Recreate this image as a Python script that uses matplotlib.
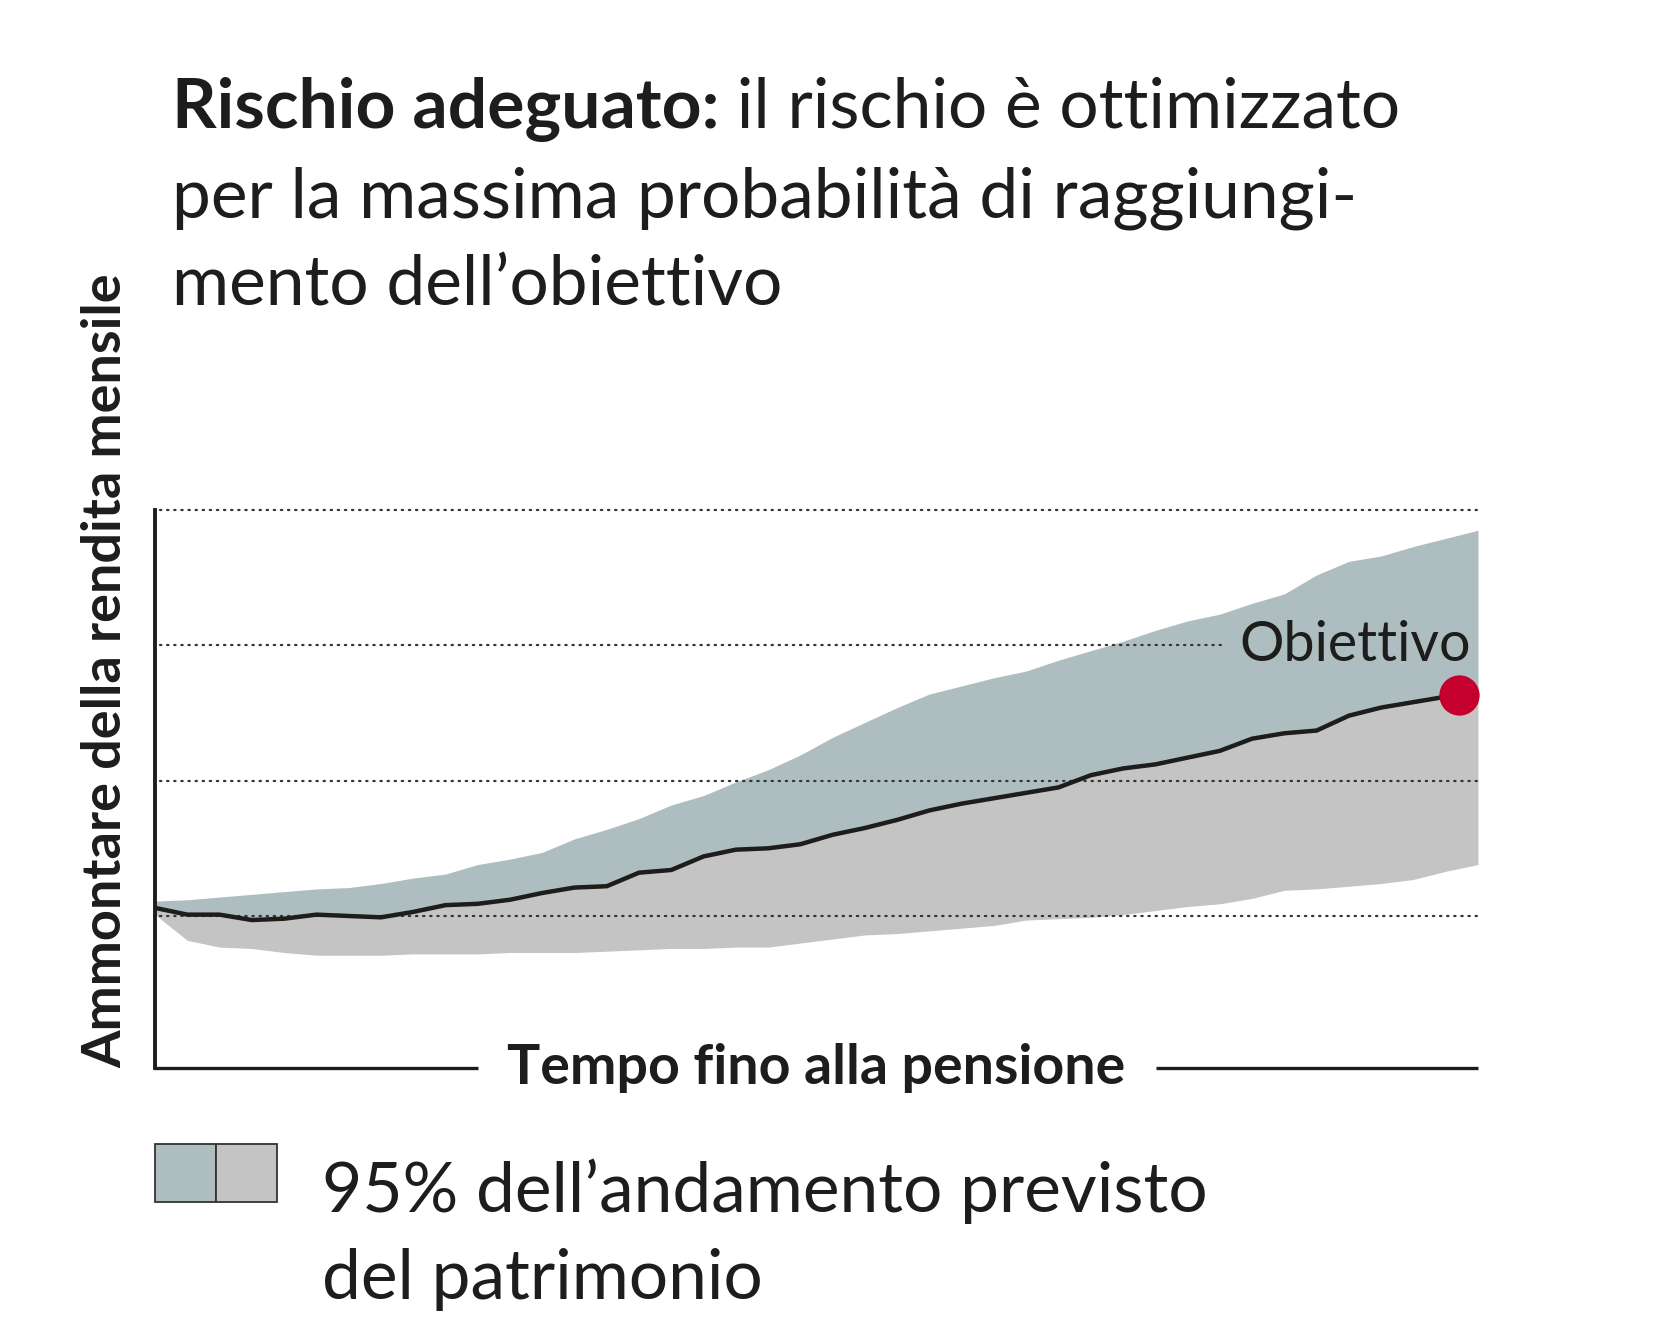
import matplotlib
matplotlib.use("Agg")
import matplotlib.pyplot as plt
from matplotlib.patches import Rectangle
import numpy as np

plt.rcParams['font.family'] = ['Lato', 'DejaVu Sans']

# time steps until retirement (arbitrary units) and projected monthly annuity
tempo = list(range(42))
banda_sup = [0.11, 0.12, 0.14, 0.16, 0.18, 0.20, 0.21, 0.24, 0.28, 0.31,
             0.38, 0.42, 0.47, 0.57, 0.64, 0.72, 0.82, 0.89, 0.99, 1.08,
             1.19, 1.32, 1.43, 1.54, 1.64, 1.70, 1.76, 1.81, 1.89, 1.96,
             2.03, 2.11, 2.18, 2.23, 2.31, 2.38, 2.52, 2.62, 2.66, 2.73,
             2.79, 2.85]
banda_inf = [0.01, -0.18, -0.23, -0.24, -0.27, -0.29, -0.29, -0.29, -0.28, -0.28,
             -0.28, -0.27, -0.27, -0.27, -0.26, -0.25, -0.24, -0.24, -0.23, -0.23,
             -0.20, -0.17, -0.14, -0.13, -0.11, -0.09, -0.07, -0.03, -0.02, -0.01,
             0.01, 0.04, 0.07, 0.09, 0.13, 0.19, 0.20, 0.22, 0.24, 0.27,
             0.33, 0.38]
tempo_med = list(range(41)) + [40.4]
mediana = [0.06, 0.01, 0.01, -0.03, -0.02, 0.01, 0.00, -0.01, 0.03, 0.08,
           0.09, 0.12, 0.17, 0.21, 0.22, 0.32, 0.34, 0.44, 0.49, 0.50,
           0.53, 0.60, 0.65, 0.71, 0.78, 0.83, 0.87, 0.91, 0.95, 1.04,
           1.09, 1.12, 1.17, 1.22, 1.31, 1.35, 1.37, 1.48, 1.54, 1.58,
           1.62, 1.63]
griglia = [0, 1, 2, 3]
obiettivo = 2
fine_obiettivo = 33.1

col_sup = '#aebec0'
col_inf = '#c4c4c4'
col_rosso = '#c5002f'
col_nero = '#1d1d1b'

fig = plt.figure(figsize=(16.67, 13.29), dpi=100)
ax = fig.add_axes([0.093, 0.1964, 0.7936, 0.4199])

# fan: upper part (median -> upper) and lower part (lower -> median)
med_full = np.interp(tempo, tempo_med, mediana)
ax.fill_between(tempo, med_full, banda_sup, color=col_sup, lw=0, zorder=1)
ax.fill_between(tempo, banda_inf, med_full, color=col_inf, lw=0, zorder=1)

# dotted reference lines
for g in griglia:
    xe = fine_obiettivo if g == obiettivo else tempo[-1]
    ax.plot([0.15, xe], [g, g], color='#333333', lw=1.6,
            ls=(0, (0.6, 2.6)), dash_capstyle='round', zorder=2, clip_on=False)

ax.plot(tempo_med, mediana, color=col_nero, lw=3.2, zorder=3,
        solid_joinstyle='round', solid_capstyle='round')
ax.plot(tempo_med[-1], mediana[-1], 'o', color=col_rosso, ms=29,
        mec='none', zorder=4, clip_on=False)
ax.text(40.78, 1.885, 'Obiettivo', ha='right', va='baseline',
        fontsize=40, color=col_nero)

ax.set_xlim(0, 41)
ax.set_ylim(-1.123, 3.0)
ax.set_xticks([])
ax.set_yticks([])
for s in ['top', 'right', 'bottom']:
    ax.spines[s].set_visible(False)
ax.spines['left'].set_linewidth(2.8)
ax.spines['left'].set_color(col_nero)

# x axis drawn in two pieces around its label
ax.plot([-0.001, 0.244], [0, 0], transform=ax.transAxes, color=col_nero,
        lw=2.4, clip_on=False, solid_capstyle='butt')
ax.plot([0.757, 1.0], [0, 0], transform=ax.transAxes, color=col_nero,
        lw=2.4, clip_on=False, solid_capstyle='butt')
ax.text(0.5, 0, 'Tempo fino alla pensione', transform=ax.transAxes,
        ha='center', va='center', fontsize=40, fontweight='bold',
        color=col_nero)

fig.text(106 / 1667, 0.1964, 'Ammontare della rendita mensile', rotation=90,
         ha='center', va='bottom', fontsize=39, fontweight='bold',
         color=col_nero)

# title with bold lead-in
x0 = 172 / 1667
t1 = fig.text(x0, 0.9037, 'Rischio adeguato:', fontsize=50,
              fontweight='bold', va='baseline', color=col_nero)
r = fig.canvas.get_renderer()
bb = t1.get_window_extent(renderer=r)
fig.text(bb.x1 / fig.bbox.width, 0.9037, ' il rischio è ottimizzato',
         fontsize=50, va='baseline', color=col_nero)
fig.text(x0, 0.8360, 'per la massima probabilità di raggiungi-',
         fontsize=50, va='baseline', color=col_nero)
fig.text(x0, 0.7698, 'mento dell’obiettivo', fontsize=50, va='baseline',
         color=col_nero)

# legend
for i, c in enumerate([col_sup, col_inf]):
    fig.add_artist(Rectangle((0.0930 + i * 0.0366, 0.0956), 0.0366, 0.0436,
                             transform=fig.transFigure, facecolor=c,
                             edgecolor='#333333', lw=1.3))
fig.text(322 / 1667, 0.0880, '95% dell’andamento previsto', fontsize=50,
         va='baseline', color=col_nero)
fig.text(322 / 1667, 0.0226, 'del patrimonio', fontsize=50,
         va='baseline', color=col_nero)

fig.savefig('out.png', dpi=100)
